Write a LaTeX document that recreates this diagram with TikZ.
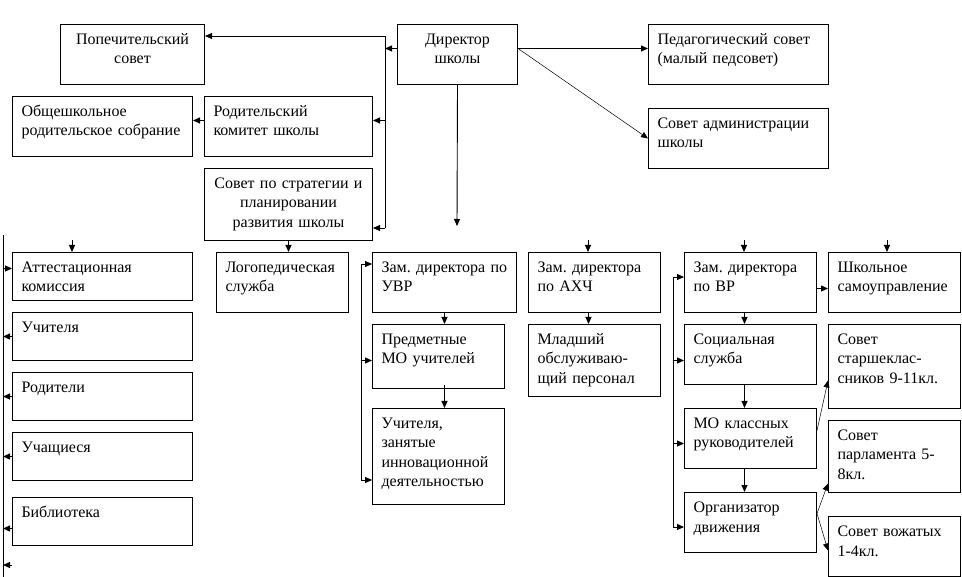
\documentclass[tikz,border=0pt]{standalone}
\usepackage{fontspec}
\setmainfont{Liberation Serif}
\usetikzlibrary{arrows.meta}
\frenchspacing

\begin{document}
\begin{tikzpicture}[
x=1pt, y=-1pt,
every node/.style={font=\fontsize{16}{19.5}\selectfont},
box/.style 2 args={draw, rectangle, line width=1pt, anchor=north west,
inner xsep=9pt, inner ysep=0pt, align=left,
text width=#1pt-18pt, text height=20pt, text depth=#2pt-20pt},
cbox/.style 2 args={box={#1}{#2}, align=center, inner xsep=3pt, text width=#1pt-6pt},
arrow/.style={-{Triangle[length=7pt,width=6pt]}, line width=0.9pt},
link/.style={line width=0.9pt},
thinarrow/.style={arrow, line width=0.5pt}
]

\useasboundingbox (0,0) rectangle (962,577);

% =====================================================
% Nodes
% =====================================================

\node[cbox={144}{60}] (pop) at (60,24) {Попечительский\\совет};
\node[cbox={120}{60}] (dir) at (397,24) {Директор\\школы};
\node[box={180}{60}] (ped) at (648,24) {Педагогический совет\\(малый педсовет)};
\node[box={180}{60}] (adm) at (648,108) {Совет администрации\\школы};
\node[box={180}{60}] (obsh) at (12,96) {Общешкольное\\родительское собрание};
\node[box={168}{60}] (rodk) at (204,96) {Родительский\\комитет школы};
\node[cbox={168}{72}] (strat) at (204,168) {Совет по стратегии и\\планировании\\развития школы};

\node[box={180}{48}] (att) at (12,252) {Аттестационная\\комиссия};
\node[box={180}{48}] (uch) at (12,312) {Учителя};
\node[box={180}{48}] (rod) at (12,372) {Родители};
\node[box={180}{48}] (uchs) at (12,432) {Учащиеся};
\node[box={180}{48}] (bib) at (12,497) {Библиотека};

\node[box={132}{60}] (log) at (216,252) {Логопедическая\\служба};
\node[box={144}{60}] (uvr) at (372,252) {Зам.~директора~по\\УВР};
\node[box={132}{64}] (pmo) at (372,324) {Предметные\\МО учителей};
\node[box={132}{96}] (inn) at (372,408) {Учителя,\\занятые\\инновационной\\деятельностью};

\node[box={132}{60}] (ahch) at (528,252) {Зам. директора\\по АХЧ};
\node[box={132}{72}] (mlad) at (528,324) {Младший\\обслуживаю-\\щий персонал};

\node[box={132}{60}] (vr) at (684,252) {Зам. директора\\по ВР};
\node[box={132}{60}] (soc) at (684,324) {Социальная\\служба};
\node[box={132}{60}] (mok) at (684,408) {МО классных\\руководителей};
\node[box={132}{60}] (org) at (684,492) {Организатор\\движения};

\node[box={132}{60}] (sam) at (828,252) {Школьное\\самоуправление};
\node[box={132}{84}] (star) at (828,324) {Совет\\старшеклас-\\сников 9-11кл.};
\node[box={132}{72}] (parl) at (828,420) {Совет\\парламента 5-\\8кл.};
\node[box={132}{60}] (voj) at (828,516) {Совет вожатых\\1-4кл.};

% =====================================================
% Coordinates
% =====================================================

\coordinate (spT) at (385,36);
\coordinate (spB) at (385,228);
\coordinate (dirD) at (457,226);
\coordinate (lT) at (3,235);
\coordinate (lB) at (3,577);
\coordinate (lfree) at (12,565);
\coordinate (att-up) at (72,240);
\coordinate (ahch-up) at (588,240);
\coordinate (vr-up) at (744,240);
\coordinate (sam-up) at (887,240);
\coordinate (ubT) at (361,264);
\coordinate (ubB) at (361,480);
\coordinate (vbT) at (673,277);
\coordinate (vbB) at (673,527);

% =====================================================
% Arrows
% =====================================================

\draw[link] (spT) -- (spB);
\draw[arrow] (spT) -- (spT -| pop.east);
\draw[arrow] ([yshift=6pt]dir.west) -- ([yshift=6pt]dir.west -| spT);
\draw[arrow] ([yshift=6pt]rodk.east -| spT) -- ([yshift=6pt]rodk.east);
\draw[arrow] (spB) -- (spB -| strat.east);
\draw[arrow] ([yshift=6pt]rodk.west) -- ([yshift=6pt]obsh.east);
\draw[arrow] (dir.south) -- (dirD);
\draw[arrow] ([yshift=6pt]dir.east) -- ([yshift=6pt]ped.west);
\draw[thinarrow] ([yshift=6pt]dir.east) -- (adm.west);

\draw[arrow] (strat.south) -- (strat.south |- log.north);
\foreach \n in {att,ahch,vr,sam}
  \draw[arrow] (\n-up) -- (\n-up |- \n.north);

\draw[link] (lT) -- (lB);
\draw[arrow] ([yshift=8pt]att.west -| lT) -- ([yshift=8pt]att.west);
\foreach \n in {uch,rod,uchs}
  \draw[arrow] (\n.west) -- (\n.west -| lT);
\draw[arrow] ([yshift=-7pt]bib.west) -- ([yshift=-7pt]bib.west -| lT);
\draw[arrow] (lfree) -- (lfree -| lT);

\draw[link] (ubT) -- (ubB);
\draw[arrow] (ubT) -- (ubT -| uvr.west);
\draw[arrow] ([yshift=-4pt]pmo.west -| ubT) -- ([yshift=-4pt]pmo.west);
\draw[arrow] (ubB) -- (ubB -| inn.west);
\draw[arrow] (uvr.south) -- (uvr.south |- pmo.north);
\draw[arrow] ([yshift=4pt]pmo.south -| uvr.south) -- (inn.north -| uvr.south);
\draw[arrow] ([xshift=-6pt]ahch.south) -- ([xshift=-6pt]ahch.south |- mlad.north);

\draw[link] (vbT) -- (vbB);
\draw[arrow] (vbT) -- (vbT -| vr.west);
\draw[arrow] ([yshift=-6pt]soc.west -| vbT) -- ([yshift=-6pt]soc.west);
\draw[arrow] ([yshift=-5pt]mok.west -| vbT) -- ([yshift=-5pt]mok.west);
\draw[arrow] (vbB) -- (vbB -| org.west);
\foreach \a/\b in {vr/soc,soc/mok,mok/org}
  \draw[arrow] ([xshift=-6pt]\a.south) -- ([xshift=-6pt]\b.north);
\draw[arrow] ([yshift=-6pt]vr.east) -- ([yshift=-6pt]sam.west);
\draw[thinarrow] ([yshift=8pt]mok.east) -- ([yshift=-14pt]star.west);
\draw[thinarrow] ([yshift=9pt]org.east) -- ([yshift=-27pt]parl.west);
\draw[thinarrow] ([yshift=9pt]org.east) -- ([yshift=-4pt]voj.west);

\end{tikzpicture}
\end{document}
